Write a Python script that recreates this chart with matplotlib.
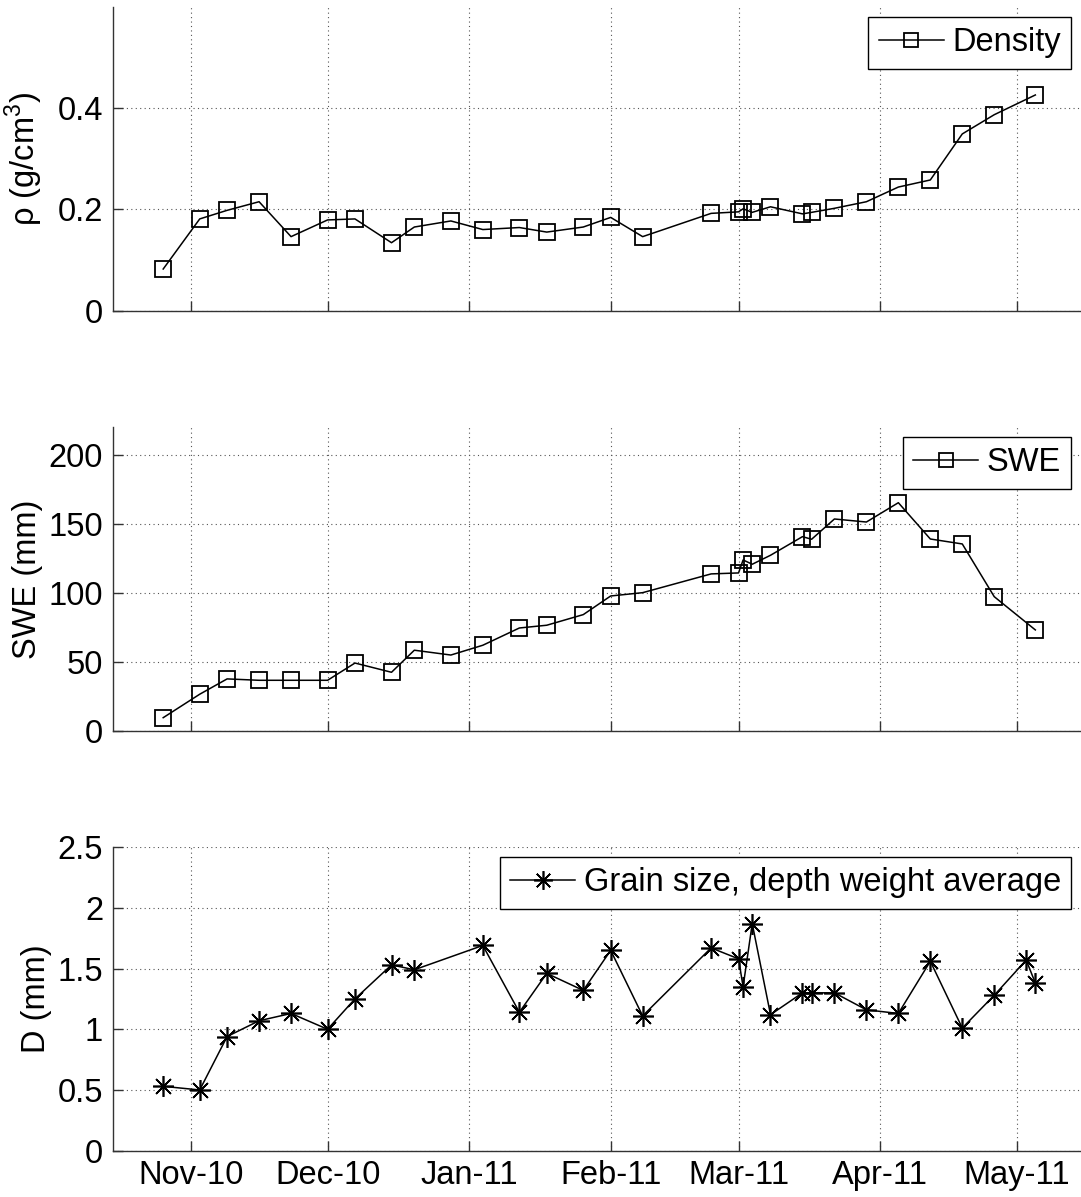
import datetime as dt
import matplotlib
matplotlib.use("Agg")
import matplotlib.pyplot as plt
import matplotlib.dates as mdates
from matplotlib.ticker import FuncFormatter

# sampling dates for density / SWE pits
pit_dates = ["2010-10-26", "2010-11-03", "2010-11-09", "2010-11-16", "2010-11-23",
             "2010-12-01", "2010-12-07", "2010-12-15", "2010-12-20", "2010-12-28",
             "2011-01-04", "2011-01-12", "2011-01-18", "2011-01-26", "2011-02-01",
             "2011-02-08", "2011-02-23", "2011-03-01", "2011-03-02", "2011-03-04",
             "2011-03-08", "2011-03-15", "2011-03-17", "2011-03-22", "2011-03-29",
             "2011-04-05", "2011-04-12", "2011-04-19", "2011-04-26", "2011-05-05"]

density = [0.082, 0.181, 0.198, 0.215, 0.146, 0.179, 0.181, 0.134, 0.165, 0.177,
           0.160, 0.164, 0.155, 0.165, 0.184, 0.146, 0.192, 0.195, 0.201, 0.194,
           0.205, 0.191, 0.194, 0.202, 0.215, 0.244, 0.258, 0.349, 0.387, 0.426]

swe = [9.4, 26.4, 37.5, 36.5, 36.5, 36.5, 49.0, 42.3, 58.3, 54.8,
       61.9, 74.4, 76.4, 84.1, 97.6, 100.0, 113.6, 114.3, 123.7, 120.6,
       127.1, 140.6, 138.7, 153.4, 151.2, 165.2, 138.9, 135.3, 97.1, 73.0]

# grain size has its own set of dates
grain_dates = ["2010-10-26", "2010-11-03", "2010-11-09", "2010-11-16", "2010-11-23",
               "2010-12-01", "2010-12-07", "2010-12-15", "2010-12-20", "2011-01-04",
               "2011-01-12", "2011-01-18", "2011-01-26", "2011-02-01", "2011-02-08",
               "2011-02-23", "2011-03-01", "2011-03-02", "2011-03-04", "2011-03-08",
               "2011-03-15", "2011-03-17", "2011-03-22", "2011-03-29", "2011-04-05",
               "2011-04-12", "2011-04-19", "2011-04-26", "2011-05-03", "2011-05-05"]

grain = [0.53, 0.50, 0.94, 1.07, 1.13, 1.00, 1.25, 1.53, 1.49, 1.69,
         1.14, 1.46, 1.32, 1.65, 1.11, 1.67, 1.58, 1.35, 1.87, 1.12,
         1.30, 1.30, 1.30, 1.16, 1.13, 1.56, 1.01, 1.28, 1.57, 1.38]

to_dt = lambda lst: [dt.datetime.strptime(s, "%Y-%m-%d") for s in lst]
pit_t = to_dt(pit_dates)
grain_t = to_dt(grain_dates)

FS = 23.5
plt.rcParams['font.family'] = ['Liberation Sans', 'DejaVu Sans']
plt.rcParams['font.size'] = FS
plt.rcParams['mathtext.fontset'] = 'custom'
plt.rcParams['mathtext.rm'] = 'Liberation Sans'

fig = plt.figure(figsize=(10.81, 11.97), dpi=100)
L, W, H = 0.1045, 0.8955, 0.2536
boxes = [[L, 0.7406, W, H], [L, 0.3896, W, H], [L, 0.0387, W, H]]
axes = [fig.add_axes(b) for b in boxes]

xmin, xmax = dt.datetime(2010, 10, 15), dt.datetime(2011, 5, 15)


def style(ax, ymax, yticks):
    ax.set_xlim(xmin, xmax)
    ax.set_ylim(0, ymax)
    ax.set_yticks(yticks)
    ax.xaxis.set_major_locator(mdates.MonthLocator())
    ax.xaxis.set_major_formatter(mdates.DateFormatter("%b-%y"))
    for s in ("top", "right"):
        ax.spines[s].set_visible(False)
    for s in ("left", "bottom"):
        ax.spines[s].set_color("#333333")
        ax.spines[s].set_linewidth(1.0)
    ax.tick_params(direction="in", length=7, width=1, color="#333333",
                   labelsize=FS, pad=7)
    ax.grid(True, linestyle=(0, (1, 3)), color="#555555", linewidth=0.8)


lg_kw = dict(loc="upper right", fancybox=False, framealpha=1, edgecolor="black",
             handlelength=2.0, borderaxespad=0.3, fontsize=FS, markerscale=0.9,
             borderpad=0.32, handletextpad=0.25)

ax = axes[0]
ax.plot(pit_t, density, "k-", marker="s", mfc="none", mec="black", ms=11.5,
        mew=1.3, lw=1.1, label="Density")
style(ax, 0.6, [0, 0.2, 0.4])
ax.yaxis.set_major_formatter(FuncFormatter(lambda v, p: f"{v:g}"))
ax.set_xticklabels([])
ax.set_ylabel(r"ρ (g/cm$^3$)", fontsize=FS)
ax.yaxis.set_label_coords(-0.070, 0.5)
ax.legend(**lg_kw).get_frame().set_linewidth(1.0)

ax = axes[1]
ax.plot(pit_t, swe, "k-", marker="s", mfc="none", mec="black", ms=11.5,
        mew=1.3, lw=1.1, label="SWE")
style(ax, 220, [0, 50, 100, 150, 200])
ax.set_xticklabels([])
ax.set_ylabel("SWE (mm)", fontsize=FS)
ax.yaxis.set_label_coords(-0.072, 0.5)
ax.legend(**lg_kw).get_frame().set_linewidth(1.0)

ax = axes[2]
ax.plot(grain_t, grain, "k-", marker=(8, 2, 0), mec="black", ms=15,
        mew=1.2, lw=1.1, label="Grain size, depth weight average")
style(ax, 2.5, [0, 0.5, 1, 1.5, 2, 2.5])
ax.yaxis.set_major_formatter(FuncFormatter(lambda v, p: f"{v:g}"))
ax.set_ylabel("D (mm)", fontsize=FS)
ax.yaxis.set_label_coords(-0.063, 0.5)
ax.legend(**lg_kw).get_frame().set_linewidth(1.0)

fig.savefig("out.png", dpi=100)
